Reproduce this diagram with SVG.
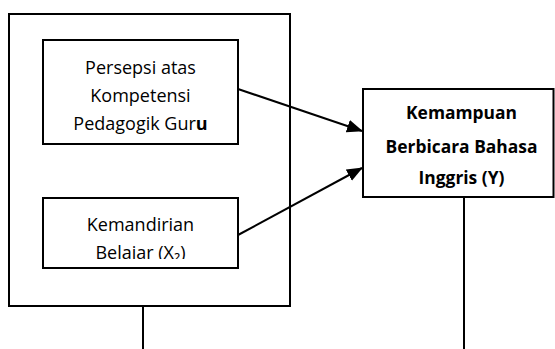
<svg xmlns="http://www.w3.org/2000/svg" width="555" height="349" viewBox="0 0 555 349">
<style>
.box{fill:#fff;stroke:#000;stroke-width:2}
.ln{stroke:#000;stroke-width:2;fill:none}
.t{font-family:"Open Sans","Liberation Sans",sans-serif;font-size:18px;fill:#000;text-anchor:middle}
.b{font-weight:bold}
.tb{font-size:17.4px}
</style>
<defs>
<marker id="ah" markerWidth="16" markerHeight="13" refX="15" refY="6.5" orient="auto" markerUnits="userSpaceOnUse" viewBox="0 0 16 13">
<path d="M0,0 L16,6.5 L0,13 z" fill="#000"/>
</marker>
<clipPath id="clip2"><rect x="43" y="198" width="195" height="61"/></clipPath>
</defs>
<g id="outer">
<rect class="box" x="9" y="14" width="281" height="292"/>
</g>
<g id="x1">
<rect class="box" x="43" y="40" width="195" height="104"/>
<text class="t" x="140.5" y="73.5">Persepsi atas</text>
<text class="t" x="140.5" y="101.5">Kompetensi</text>
<text class="t" x="140.5" y="129.5">Pedagogik Gur<tspan class="b">u</tspan></text>
</g>
<g id="x2">
<rect class="box" x="43" y="198" width="195" height="70"/>
<text class="t" x="140.5" y="230.5">Kemandirian</text>
<text class="t" x="140.5" y="258.5" clip-path="url(#clip2)">Belajar (X₂)</text>
</g>
<g id="y">
<rect class="box" x="363" y="89" width="190.5" height="108"/>
<text class="t b tb" x="461.5" y="118.5">Kemampuan</text>
<text class="t b tb" x="461.5" y="152.5">Berbicara Bahasa</text>
<text class="t b tb" x="461.5" y="183.5">Inggris (Y)</text>
</g>
<g id="connectors">
<line class="ln" x1="238" y1="89" x2="362" y2="131" marker-end="url(#ah)"/>
<line class="ln" x1="238" y1="235" x2="362" y2="168" marker-end="url(#ah)"/>
<line class="ln" x1="143" y1="306" x2="143" y2="349"/>
<line class="ln" x1="464" y1="197" x2="464" y2="349"/>
</g>
</svg>
